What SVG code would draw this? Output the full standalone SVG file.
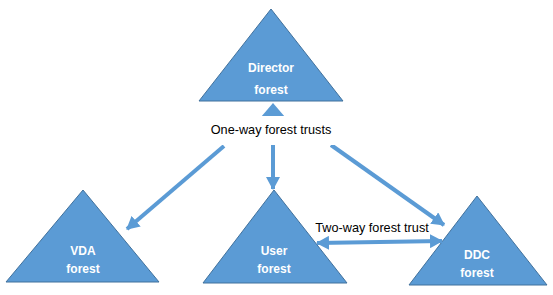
<svg xmlns="http://www.w3.org/2000/svg" width="553" height="295" viewBox="0 0 553 295">
<style>
.tri{fill:#5B9BD5;stroke:#41719C;stroke-width:1}
.nl{font-family:"Liberation Sans",Arial,sans-serif;font-size:12px;font-weight:bold;fill:#fff;text-anchor:middle}
.lbl{font-family:"Liberation Sans",Arial,sans-serif;font-size:12.7px;fill:#000;text-anchor:middle}
.c{stroke:#5B9BD5;stroke-width:4;fill:none}
</style>
<defs>
<marker id="ah" markerUnits="userSpaceOnUse" markerWidth="14" markerHeight="14" refX="12" refY="7" orient="auto-start-reverse" viewBox="0 0 14 14">
<path d="M0,0 L13,7 L0,14 Z" fill="#5B9BD5"/>
</marker>
</defs>
<rect width="553" height="295" fill="#fff"/>
<g id="director">
<polygon class="tri" points="271,9 199,101 343,101"/>
<text class="nl" x="271" y="72">Director</text>
<text class="nl" x="271" y="94">forest</text>
</g>
<g id="vda">
<polygon class="tri" points="83,190 6,282 159,282"/>
<text class="nl" x="83" y="255">VDA</text>
<text class="nl" x="83" y="273">forest</text>
</g>
<g id="user">
<polygon class="tri" points="274,190 203,283 347,283"/>
<text class="nl" x="274" y="255">User</text>
<text class="nl" x="274" y="273">forest</text>
</g>
<g id="ddc">
<polygon class="tri" points="477,196 409,285 547,285"/>
<text class="nl" x="477" y="259">DDC</text>
<text class="nl" x="477" y="277">forest</text>
</g>
<g id="connectors">
<line class="c" x1="273" y1="125" x2="273" y2="108"/>
<polygon points="273,103 261,117 285,117" fill="#5B9BD5"/>
<line class="c" x1="224" y1="146" x2="127" y2="229" marker-end="url(#ah)"/>
<line class="c" x1="273" y1="145" x2="273" y2="189" marker-end="url(#ah)"/>
<line class="c" x1="331" y1="145" x2="444" y2="225" marker-end="url(#ah)"/>
<line class="c" x1="317" y1="243" x2="442" y2="241" marker-start="url(#ah)" marker-end="url(#ah)"/>
</g>
<rect x="205" y="116" width="135" height="29" fill="#fff"/>
<text class="lbl" x="271" y="134">One-way forest trusts</text>
<text class="lbl" x="372" y="232">Two-way forest trust</text>
</svg>
